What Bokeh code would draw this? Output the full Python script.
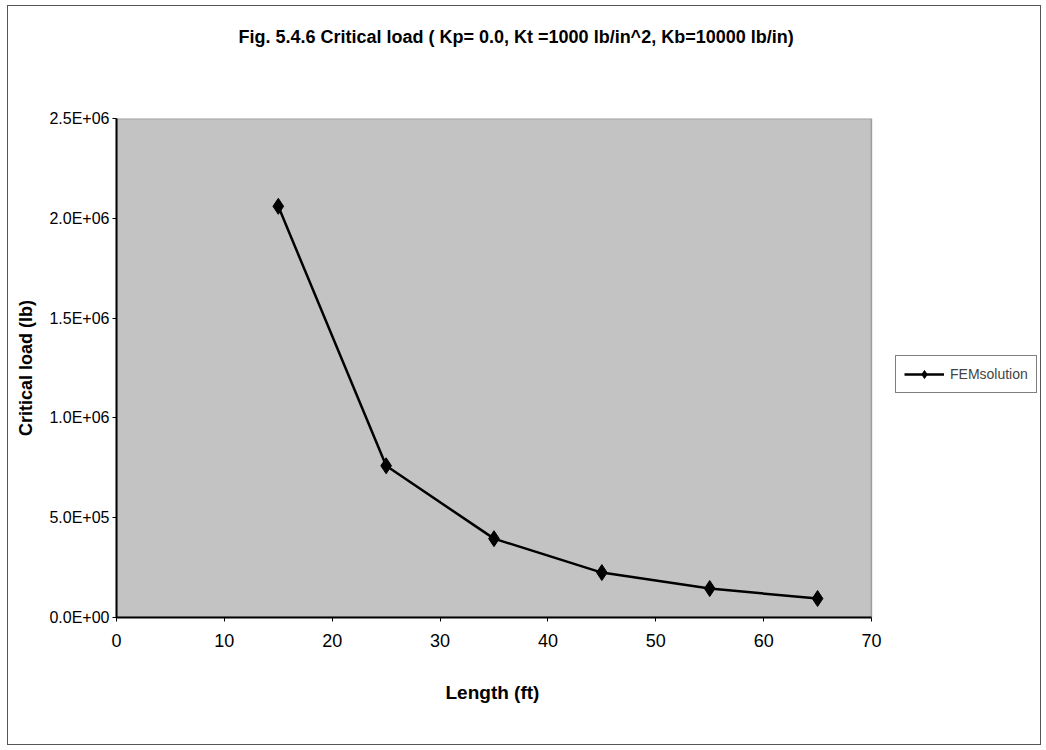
from bokeh.plotting import figure
from bokeh.models import FixedTicker, Legend, LegendItem, Range1d, Title, BoxAnnotation
from bokeh.embed import file_html
from bokeh.resources import INLINE

# ---- data ----
length_ft = [15, 25, 35, 45, 55, 65]
critical_load_lb = [2.06e6, 7.6e5, 3.95e5, 2.25e5, 1.45e5, 9.5e4]
series_name = "FEMsolution"
x_ticks = [0, 10, 20, 30, 40, 50, 60, 70]
y_ticks = [0, 500000, 1000000, 1500000, 2000000, 2500000]
y_tick_labels = ["0.0E+00", "5.0E+05", "1.0E+06", "1.5E+06", "2.0E+06", "2.5E+06"]
title_text = "Fig. 5.4.6 Critical load ( Kp= 0.0, Kt =1000 lb/in^2, Kb=10000 lb/in)"
x_label = "Length (ft)"
y_label = "Critical load (lb)"
x_min, x_max = 0, 70
y_min, y_max = 0, 2.5e6

FONT = "Liberation Sans"

# layout (pixels)
W, H = 1034, 740
LEFT, TOP, BOTTOM, RIGHT = 108, 112, 129, 2
AXIS_PX = 755  # pixel width of the 0..70 axis
frame_px = W - LEFT - RIGHT
x_end = x_min + (x_max - x_min) * frame_px / AXIS_PX  # extra room on the right for the legend

p = figure(width=W, height=H, output_backend="svg", toolbar_location=None,
           x_range=Range1d(x_min, x_end), y_range=Range1d(y_min, y_max),
           min_border_left=LEFT, min_border_right=RIGHT, min_border_top=TOP,
           min_border_bottom=BOTTOM, margin=(5, 0, 0, 7),
           styles={"border": "1px solid #555555"})
p.title = Title(text=title_text + "\n\n\n", align="left", offset=122, standoff=20,
                vertical_align="top",
                text_font=FONT, text_font_style="bold", text_font_size="18px",
                text_color="black")

p.background_fill_color = "white"
p.border_fill_color = "white"
p.outline_line_color = None
p.xgrid.visible = False
p.ygrid.visible = False

plot_area = BoxAnnotation(left=x_min, right=x_max, bottom=y_min, top=y_max,
                          fill_color="#c3c3c3", fill_alpha=1.0,
                          line_color="black", line_width=1.5, level="underlay")
p.add_layout(plot_area)

for ax in (p.xaxis[0], p.yaxis[0]):
    ax.axis_line_color = "black"
    ax.axis_line_width = 2
    ax.major_tick_in = 0
    ax.major_tick_out = 4
    ax.major_tick_line_color = "black"
    ax.minor_tick_line_color = None
    ax.major_label_text_font = FONT
    ax.major_label_text_color = "black"
    ax.axis_label_text_font = FONT
    ax.axis_label_text_font_style = "bold"
    ax.axis_label_text_color = "black"

p.xaxis.bounds = (x_min, x_max)
p.xaxis.ticker = FixedTicker(ticks=x_ticks)
p.yaxis.ticker = FixedTicker(ticks=y_ticks)
p.yaxis.major_label_overrides = {t: s for t, s in zip(y_ticks, y_tick_labels)}
p.xaxis.major_label_text_font_size = "18px"
p.yaxis.major_label_text_font_size = "16px"
p.xaxis.major_label_standoff = 12
p.yaxis.major_label_standoff = 3
p.yaxis.axis_label = y_label
p.yaxis.axis_label_text_font_size = "18px"
p.yaxis.axis_label_standoff = 10

# x-axis title placed under the 0..70 part of the axis
x_title = Title(text=x_label, align="left", offset=329, standoff=64,
                vertical_align="top", text_font=FONT, text_font_style="bold",
                text_font_size="19px", text_color="black")
p.add_layout(x_title, "below")

line = p.line(length_ft, critical_load_lb, line_color="black", line_width=2.5)
pts = p.scatter(length_ft, critical_load_lb, marker="diamond", size=16,
                fill_color="black", line_color="black")

legend = Legend(items=[LegendItem(label=series_name, renderers=[line, pts])],
                location=(779, 224), label_text_font=FONT, label_text_font_size="14px",
                border_line_color="black", border_line_width=1,
                background_fill_color="white", glyph_width=40, glyph_height=20,
                label_height=20, padding=8, label_standoff=6, margin=0)
p.add_layout(legend)

open("out.html", "w").write(file_html(p, INLINE))
